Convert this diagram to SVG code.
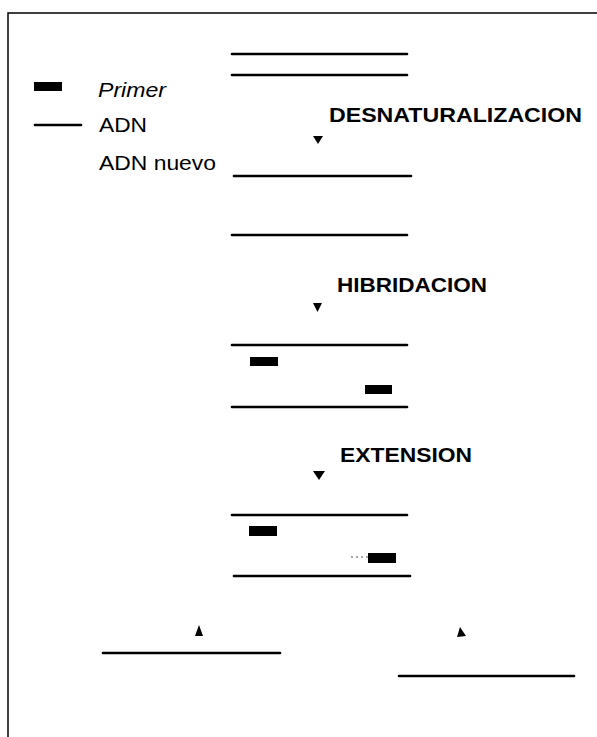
<svg xmlns="http://www.w3.org/2000/svg" width="597" height="737" viewBox="0 0 597 737">
<style>
.dna{stroke:#000;stroke-width:2.6;stroke-linecap:round;fill:none}
.frame{stroke:#000;stroke-width:1.5;fill:none}
.primer{fill:#000}
.lbl{font-family:"Liberation Sans",Arial,sans-serif;font-size:21px;fill:#000}
.step{font-family:"Liberation Sans",Arial,sans-serif;font-size:20px;font-weight:bold;fill:#000}
.tri{fill:#000}
.new{stroke:#555;stroke-width:1.2;stroke-dasharray:2 3;fill:none}
</style>
<rect width="597" height="737" fill="#fff"/>
<g id="frame">
<path class="frame" d="M8,737 V13 H597"/>
</g>
<g id="legend">
<rect class="primer" x="34" y="82" width="28" height="9"/>
<text class="lbl" x="98" y="97" font-style="italic" textLength="68" lengthAdjust="spacingAndGlyphs">Primer</text>
<line class="dna" x1="35" y1="125" x2="81" y2="125"/>
<text class="lbl" x="99" y="132" textLength="48" lengthAdjust="spacingAndGlyphs">ADN</text>
<text class="lbl" x="99" y="170" textLength="117" lengthAdjust="spacingAndGlyphs">ADN nuevo</text>
</g>
<g id="dsDNA">
<line class="dna" x1="232" y1="54" x2="407" y2="54"/>
<line class="dna" x1="232" y1="75" x2="407" y2="75"/>
</g>
<g id="label-desnaturalizacion">
<text class="step" x="329" y="122" textLength="253" lengthAdjust="spacingAndGlyphs">DESNATURALIZACION</text>
</g>
<g id="denatured">
<line class="dna" x1="234" y1="176" x2="411" y2="176"/>
<line class="dna" x1="232" y1="235" x2="407" y2="235"/>
</g>
<g id="label-hibridacion">
<text class="step" x="337" y="292" textLength="150" lengthAdjust="spacingAndGlyphs">HIBRIDACION</text>
</g>
<g id="hybridized">
<line class="dna" x1="232" y1="345" x2="407" y2="345"/>
<rect class="primer" x="250" y="357" width="28" height="9"/>
<rect class="primer" x="365" y="385" width="27" height="9"/>
<line class="dna" x1="232" y1="407" x2="407" y2="407"/>
</g>
<g id="label-extension">
<text class="step" x="340" y="462" textLength="132" lengthAdjust="spacingAndGlyphs">EXTENSION</text>
</g>
<g id="extended">
<line class="dna" x1="232" y1="515" x2="407" y2="515"/>
<rect class="primer" x="249" y="526" width="28" height="10"/>
<line class="new" x1="351" y1="557" x2="368" y2="557"/>
<rect class="primer" x="368" y="553" width="28" height="10"/>
<line class="dna" x1="234" y1="576" x2="410" y2="576"/>
</g>
<g id="product-left">
<line class="dna" x1="103" y1="653" x2="280" y2="653"/>
</g>
<g id="product-right">
<line class="dna" x1="399" y1="676" x2="574" y2="676"/>
</g>
<g id="connectors">
<polygon class="tri" points="313,136 323,136 318,144"/>
<polygon class="tri" points="313,303 322,303 317.5,312"/>
<polygon class="tri" points="313,471 325,471 319,480"/>
<polygon class="tri" points="195,636 203,636 199,625"/>
<polygon class="tri" points="457,637 466,636 460,627"/>
</g>
</svg>
